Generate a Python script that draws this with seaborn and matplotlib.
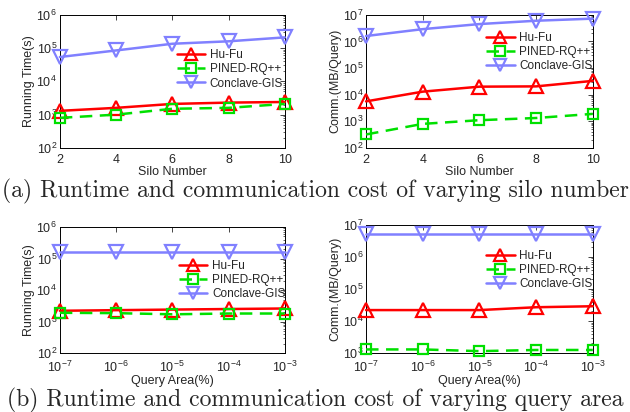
import numpy as np
import pandas as pd
import matplotlib
matplotlib.use('Agg')
import matplotlib.pyplot as plt
import matplotlib.ticker as mticker
import seaborn as sns

sns.set_style('white')
plt.rcParams['font.family'] = ['Liberation Sans', 'DejaVu Sans']
plt.rcParams['mathtext.default'] = 'regular'

# data
silos = [2, 4, 6, 8, 10]
areas = [1e-7, 1e-6, 1e-5, 1e-4, 1e-3]
area_labels = ['$10^{-7}$', '$10^{-6}$', '$10^{-5}$', '$10^{-4}$', '$10^{-3}$']

silo_time_hufu = [1300, 1600, 2100, 2300, 2400]
silo_time_pined = [800, 1000, 1500, 1600, 2100]
silo_time_conclave = [54000, 85000, 135000, 160000, 210000]

silo_comm_hufu = [5600, 13000, 20000, 20500, 33000]
silo_comm_pined = [320, 800, 1100, 1330, 1900]
silo_comm_conclave = [1.6e6, 2.9e6, 4.5e6, 6.0e6, 7.2e6]

area_time_hufu = [2200, 2300, 2400, 2500, 2600]
area_time_pined = [1900, 1850, 1700, 1800, 1800]
area_time_conclave = [160000, 160000, 160000, 160000, 160000]

area_comm_hufu = [22000, 22000, 22000, 27000, 29000]
area_comm_pined = [1300, 1300, 1150, 1250, 1250]
area_comm_conclave = [5.2e6, 5.2e6, 5.2e6, 5.2e6, 5.2e6]

methods = ['Hu-Fu', 'PINED-RQ++', 'Conclave-GIS']
colors = {'Hu-Fu': '#ff0000', 'PINED-RQ++': '#00e000', 'Conclave-GIS': '#8080ff'}
markers = {'Hu-Fu': '^', 'PINED-RQ++': 's', 'Conclave-GIS': 'v'}
sizes = {'Hu-Fu': 9.5, 'PINED-RQ++': 7.5, 'Conclave-GIS': 9.5}
lstyles = {'Hu-Fu': '-', 'PINED-RQ++': (0, (5, 3)), 'Conclave-GIS': '-'}


def draw(ax, x, series, ylim, xlabel, ylabel, leg_xy, logx=False):
    for name, vals in zip(methods, series):
        df = pd.DataFrame({'x': x, 'y': vals})
        sns.lineplot(data=df, x='x', y='y', ax=ax, color=colors[name],
                     marker=markers[name], markersize=sizes[name],
                     markerfacecolor='none', markeredgecolor=colors[name],
                     markeredgewidth=1.6, linewidth=1.8, linestyle=lstyles[name],
                     label=name, clip_on=False, zorder=3)
    ax.set_yscale('log')
    ax.set_ylim(*ylim)
    if logx:
        ax.set_xscale('log')
        ax.set_xlim(areas[0], areas[-1])
        ax.xaxis.set_major_locator(mticker.FixedLocator(areas))
        ax.xaxis.set_major_formatter(mticker.FixedFormatter(area_labels))
        ax.xaxis.set_minor_locator(mticker.NullLocator())
    else:
        ax.set_xlim(x[0], x[-1])
        ax.set_xticks(x)
    ax.yaxis.set_major_locator(mticker.LogLocator(base=10, numticks=10))
    ax.yaxis.set_minor_locator(mticker.LogLocator(base=10, subs=np.arange(2, 10), numticks=10))
    ax.yaxis.set_minor_formatter(mticker.NullFormatter())
    ax.tick_params(axis='both', which='major', direction='in', length=3.5, width=0.6,
                   labelsize=9, top=True, right=True, pad=2)
    ax.tick_params(axis='x', which='major', pad=4.5)
    ax.tick_params(axis='both', which='minor', direction='in', length=1.8, width=0.5,
                   top=True, right=True)
    for sp in ax.spines.values():
        sp.set_linewidth(0.7)
        sp.set_color('black')
    ax.set_xlabel(xlabel, fontsize=9, labelpad=0)
    ax.set_ylabel(ylabel, fontsize=9, labelpad=1)
    ax.legend(loc='center left', bbox_to_anchor=leg_xy, frameon=False, fontsize=8.5,
              handlelength=2.4, handletextpad=0.4, labelspacing=0.18, borderpad=0,
              borderaxespad=0, markerscale=0.9)


fig = plt.figure(figsize=(6.3, 4.12), dpi=100)
ax1 = fig.add_axes([0.095, 0.641, 0.357, 0.323])
ax2 = fig.add_axes([0.581, 0.641, 0.360, 0.323])
ax3 = fig.add_axes([0.095, 0.143, 0.357, 0.306])
ax4 = fig.add_axes([0.581, 0.143, 0.360, 0.311])

draw(ax1, silos, [silo_time_hufu, silo_time_pined, silo_time_conclave],
     (1e2, 1e6), 'Silo Number', 'Running Time(s)', (0.52, 0.59))
draw(ax2, silos, [silo_comm_hufu, silo_comm_pined, silo_comm_conclave],
     (1e2, 1e7), 'Silo Number', 'Comm.(MB/Query)', (0.53, 0.72))
draw(ax3, areas, [area_time_hufu, area_time_pined, area_time_conclave],
     (1e2, 1e6), 'Query Area(%)', 'Running Time(s)', (0.53, 0.58), logx=True)
draw(ax4, areas, [area_comm_hufu, area_comm_pined, area_comm_conclave],
     (1e3, 1e7), 'Query Area(%)', 'Comm.(MB/Query)', (0.53, 0.65), logx=True)

fig.text(0.5, 0.535, '(a) Runtime and communication cost of varying silo number',
         ha='center', va='center', fontsize=17, family=['cmr10', 'DejaVu Serif'])
fig.text(0.5, 0.027, '(b) Runtime and communication cost of varying query area',
         ha='center', va='center', fontsize=17, family=['cmr10', 'DejaVu Serif'])

fig.savefig('out.png', dpi=100)
